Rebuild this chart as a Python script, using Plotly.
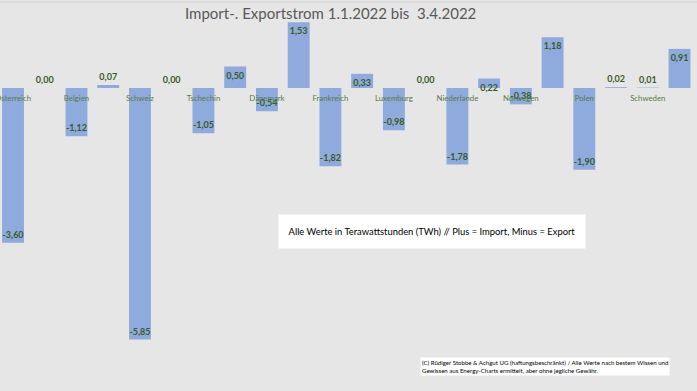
import plotly.graph_objects as go

countries = ["Österreich", "Belgien", "Schweiz", "Tschechin", "Dänemark", "Frankreich",
             "Luxemburg", "Niederlande", "Norwegen", "Polen", "Schweden"]
export_vals = [-3.60, -1.12, -5.85, -1.05, -0.54, -1.82, -0.98, -1.78, -0.38, -1.90, 0.01]
import_vals = [0.00, 0.07, 0.00, 0.50, 1.53, 0.33, 0.00, 0.22, 1.18, 0.02, 0.91]

values = []
for e, i in zip(export_vals, import_vals):
    values += [e, i]
xs = list(range(len(values)))
tickvals = xs[0::2]

textpos = ["outside" if abs(v) < 0.1 else "inside" for v in values]

W, H = 697, 391
MT, MB = 2, 45


def px(x):
    return x / W


def py(y):
    return (H - MB - y) / (H - MT - MB)


fig = go.Figure(go.Bar(
    x=xs, y=values,
    marker=dict(color="#8FAADC", line=dict(width=0)),
    texttemplate="%{y:.2f}",
    textposition=textpos,
    textangle=0,
    insidetextanchor="end",
    textfont=dict(family="Lato", size=9, color="#3A5A27", weight="bold"),
    outsidetextfont=dict(family="Lato", size=9, color="#3A5A27", weight="bold"),
    cliponaxis=False,
    hoverinfo="skip",
))

ymin, ymax = -6.0, 2.0
fig.update_layout(
    width=W, height=H,
    margin=dict(l=0, r=0, t=MT, b=MB, autoexpand=False),
    paper_bgcolor="#E6E6E6", plot_bgcolor="#E6E6E6",
    separators=",.",
    bargap=0.31,
    showlegend=False,
    uniformtext=dict(minsize=9, mode="show"),
    xaxis=dict(range=[-0.41, 21.55], tickvals=tickvals, ticktext=countries,
               showgrid=False, zeroline=False, showline=False, ticks="",
               automargin=False, ticklabelstandoff=4, ticklabeloverflow="allow",
               anchor="free", position=(0 - ymin) / (ymax - ymin),
               tickfont=dict(family="Lato", size=7.8, color="#5A7A45")),
    yaxis=dict(range=[ymin, ymax], visible=False, showgrid=False, zeroline=False,
               automargin=False),
    font=dict(family="Lato"),
)

fig.add_annotation(text="Import-. Exportstrom 1.1.2022 bis  3.4.2022", xref="paper", yref="paper",
                   x=px(330), y=py(13), xanchor="center", yanchor="middle",
                   showarrow=False, font=dict(family="Lato", size=15, color="#595959"))

fig.add_shape(type="line", xref="paper", yref="paper", x0=0, x1=1, y0=py(2), y1=py(2),
              line=dict(color="#D0D0D0", width=1))

fig.add_annotation(text="Alle Werte in Terawattstunden (TWh) // Plus = Import, Minus = Export",
                   xref="paper", yref="paper", x=px(432), y=py(231),
                   xanchor="center", yanchor="middle", showarrow=False,
                   bgcolor="white", borderpad=0, width=306, height=33,
                   font=dict(family="Lato", size=9.4, color="#000000"))

fig.add_annotation(text="(C) Rüdiger Stobbe & Achgut UG (haftungsbeschränkt) / Alle Werte nach bestem Wissen und<br>Gewissen aus Energy-Charts ermittelt, aber ohne jegliche Gewähr.",
                   xref="paper", yref="paper", x=px(420), y=py(367),
                   xanchor="left", yanchor="middle", align="left", showarrow=False,
                   bgcolor="white", borderpad=1,
                   font=dict(family="Lato", size=6.1, color="#000000"))

fig.write_html("out.html", config={"displayModeBar": False, "staticPlot": True},
               post_script="document.body.style.margin='0';document.body.style.overflow='hidden';")
